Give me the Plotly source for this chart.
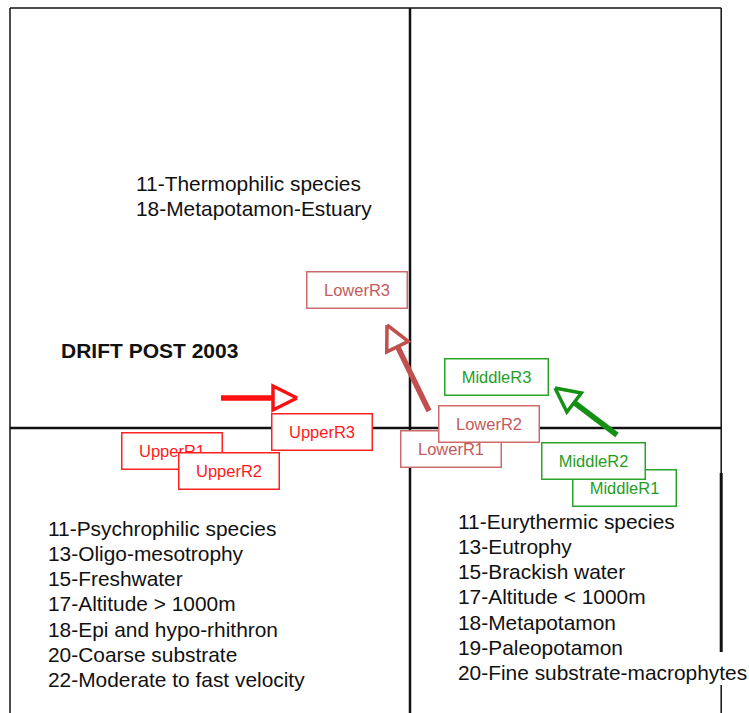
import numpy as np
import plotly.graph_objects as go

# site scores on the two ordination axes
sites = ["UpperR1", "UpperR2", "UpperR3",
         "LowerR1", "LowerR2", "LowerR3",
         "MiddleR1", "MiddleR2", "MiddleR3"]
site_x = [-0.595, -0.4525, -0.22, 0.1025, 0.1975, -0.1325, 0.535, 0.4575, 0.215]
site_y = [-0.0575, -0.1075, -0.01, -0.0525, 0.01, 0.345, -0.15, -0.0825, 0.1275]
site_group = ["Upper"] * 3 + ["Lower"] * 3 + ["Middle"] * 3

# drift arrows (tail -> head)
arrow_group = ["Upper", "Lower", "Middle"]
arrow_x0 = [-0.4725, 0.0475, 0.5175]
arrow_y0 = [0.075, 0.0425, -0.0175]
arrow_x1 = [-0.2825, -0.0575, 0.3625]
arrow_y1 = [0.075, 0.2575, 0.1]

# quadrant descriptions
text_upper_left = ["11-Thermophilic species", "18-Metapotamon-Estuary"]
text_lower_left = ["11-Psychrophilic species", "13-Oligo-mesotrophy", "15-Freshwater",
                   "17-Altitude > 1000m", "18-Epi and hypo-rhithron",
                   "20-Coarse substrate", "22-Moderate to fast velocity"]
text_lower_right = ["11-Eurythermic species", "13-Eutrophy", "15-Brackish water",
                    "17-Altitude < 1000m", "18-Metapotamon", "19-Paleopotamon",
                    "20-Fine substrate-macrophytes"]
title_text = "DRIFT POST 2003"

text_color = {"Upper": "#ff1a1a", "Lower": "#c45a5a", "Middle": "#1f9e1f"}
box_color = {"Upper": "#ff2020", "Lower": "#cd6b6b", "Middle": "#2aa52a"}
arrow_color = {"Upper": "#ff1010", "Lower": "#c0504d", "Middle": "#159015"}
FONT = "Liberation Sans, Arial, sans-serif"

fig = go.Figure()

# frame and the two axes through the origin
X0, X1, Y0, Y1 = -1.0, 0.778, -0.75, 1.05
frame = [
    (X0, Y0, X0, Y1, 1.5), (X0, Y1, X1, Y1, 1.5),
    (X1, Y1, X1, -0.1125, 1.5), (X1, -0.1125, X1, -0.56, 3),
    (X1, -0.6425, X1, Y0, 1.5),
    (0, Y0, 0, Y1, 2.5), (X0, 0, X1, 0, 2.5),
]
for xa, ya, xb, yb, w in frame:
    fig.add_shape(type="line", x0=xa, y0=ya, x1=xb, y1=yb, layer="below",
                  line=dict(color="#111111", width=w))

# arrows: thick shaft + open triangular head
head_len, head_half = 0.06, 0.03
for g, xa, ya, xb, yb in zip(arrow_group, arrow_x0, arrow_y0, arrow_x1, arrow_y1):
    tail = np.array([xa, ya])
    tip = np.array([xb, yb])
    u = (tip - tail) / np.linalg.norm(tip - tail)
    n = np.array([-u[1], u[0]])
    base = tip - head_len * u
    tri = np.array([tip, base + head_half * n, base - head_half * n, tip])
    fig.add_trace(go.Scatter(x=[tail[0], base[0]], y=[tail[1], base[1]], mode="lines",
                             line=dict(color=arrow_color[g], width=5.5),
                             hoverinfo="skip", showlegend=False))
    fig.add_trace(go.Scatter(x=tri[:, 0], y=tri[:, 1], mode="lines", fill="toself",
                             fillcolor="white",
                             line=dict(color=arrow_color[g], width=3.5),
                             hoverinfo="skip", showlegend=False))

# site labels in boxes
for name, x, y, g in zip(sites, site_x, site_y, site_group):
    fig.add_annotation(x=x, y=y, text=name, showarrow=False,
                       font=dict(family=FONT, size=16.5, color=text_color[g]),
                       bgcolor="white", bordercolor=box_color[g], borderwidth=1.5,
                       borderpad=0, width=99 if g != "Middle" else 102, height=35)


def add_block(lines, x, y, size=20.9, bold=False, step=25.3):
    for i, line in enumerate(lines):
        txt = f"<b>{line}</b>" if bold else line
        fig.add_annotation(x=x, y=y, text=txt, showarrow=False,
                           xanchor="left", yanchor="middle", yshift=-i * step,
                           font=dict(family=FONT, size=size, color="#111111"))


add_block(text_upper_left, -0.69, 0.6125)
add_block([title_text], -0.8775, 0.195, size=21, bold=True)
add_block(text_lower_left, -0.91, -0.25)
add_block(text_lower_right, 0.115, -0.2325)

fig.update_layout(
    width=749, height=713,
    margin=dict(l=0, r=0, t=0, b=0),
    paper_bgcolor="white", plot_bgcolor="white",
    xaxis=dict(range=[-1.025, 0.8475], visible=False),
    yaxis=dict(range=[-0.7125, 1.07], visible=False),
    showlegend=False,
)

# drop the default page margin so the figure sits at the window corner
fig.write_html("out.html", config={"displayModeBar": False},
               post_script="document.body.style.margin = '0';")
